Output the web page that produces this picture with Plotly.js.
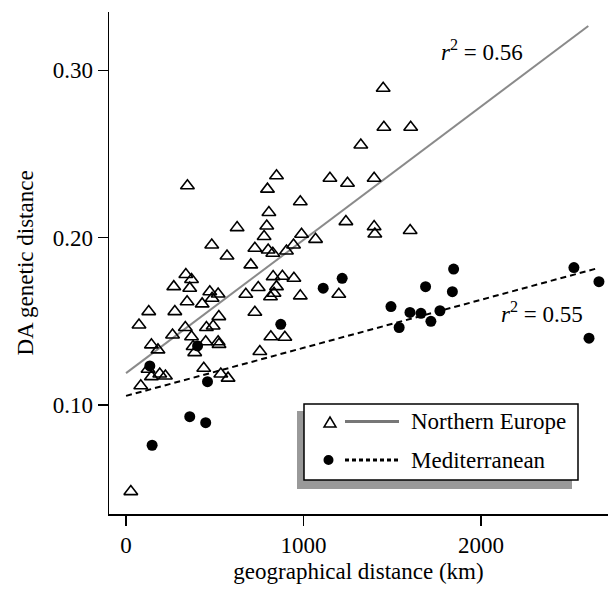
<!DOCTYPE html>
<html>
<head>
<meta charset="utf-8">
<script src="https://cdn.plot.ly/plotly-3.0.1.min.js"></script>
<style>
html,body{margin:0;padding:0;background:#fff;}
#chart{width:611px;height:591px;}
</style>
</head>
<body>
<div id="chart"></div>
<script>
// Northern Europe (open triangles): geographical distance (km), DA genetic distance
const neDist = [848, 346, 797, 982, 805, 626, 793, 778, 483, 569, 726, 801, 827, 904, 944, 703,
  337, 369, 269, 359, 472, 519, 344, 429, 485, 675, 745, 829, 881, 946, 848, 834, 814, 982,
  128, 275, 523, 726, 73, 334, 453, 491, 262, 369, 449, 519, 524, 143, 180, 378, 387, 816,
  895, 754, 124, 143, 190, 222, 438, 534, 575, 83, 27, 1149, 1248, 1398, 1239, 1398, 1402,
  1601, 989, 1068, 1199, 1449, 1453, 1604, 1323];
const neGen = [0.237, 0.231, 0.229, 0.2215, 0.215, 0.206, 0.207, 0.2007, 0.1956, 0.189, 0.1937,
  0.1926, 0.1907, 0.192, 0.1956, 0.1837, 0.178, 0.175, 0.1707, 0.1698, 0.1677, 0.1663, 0.1617,
  0.1604, 0.1638, 0.1662, 0.1702, 0.1767, 0.1769, 0.1757, 0.1707, 0.1668, 0.1647, 0.1652,
  0.1558, 0.1558, 0.1528, 0.1554, 0.1478, 0.1463, 0.1463, 0.1472, 0.1418, 0.1408, 0.1378,
  0.1378, 0.1362, 0.1359, 0.1329, 0.1349, 0.1313, 0.1408, 0.1405, 0.1319, 0.1213, 0.1169,
  0.1185, 0.1173, 0.1219, 0.1185, 0.116, 0.1115, 0.0482, 0.2355, 0.2325, 0.2355, 0.2096,
  0.2066, 0.2022, 0.2043, 0.202, 0.199, 0.1662, 0.2893, 0.266, 0.266, 0.2554];

// Mediterranean (filled circles)
const medDist = [134, 403, 459, 359, 449, 147, 872, 1111, 1218, 1493, 1539, 1600, 1662, 1718,
  1769, 1688, 1839, 1846, 2524, 2665, 2609];
const medGen = [0.1233, 0.1353, 0.1139, 0.093, 0.0894, 0.0759, 0.1482, 0.1698, 0.1757, 0.1588,
  0.1463, 0.1553, 0.1548, 0.15, 0.1563, 0.1707, 0.1677, 0.1812, 0.1821, 0.1737, 0.1399];

// Regression lines (end points)
const neFitX = [0, 2605];
const neFitY = [0.119, 0.3265];
const medFitX = [0, 2656];
const medFitY = [0.1054, 0.1817];

const seriesNames = ["Northern Europe", "Mediterranean"];
const r2Labels = ["<i>r</i><sup>2</sup> = 0.56", "<i>r</i><sup>2</sup> = 0.55"];
const xTicks = [0, 1000, 2000];
const yTicks = [0.10, 0.20, 0.30];

const FONT = "Liberation Serif, Times New Roman, serif";

// plot area in pixels: left 109, right 608, top 12, bottom 514
const L = 109, R = 608, T = 12, B = 514;
const pX = v => (v - L) / (R - L);
const pY = v => (B - v) / (B - T);

const traces = [
  {x: neFitX, y: neFitY, mode: "lines", line: {color: "#8a8a8a", width: 2}, showlegend: false, hoverinfo: "skip"},
  {x: medFitX, y: medFitY, mode: "lines", line: {color: "#000", width: 2, dash: "6px,4px"}, showlegend: false, hoverinfo: "skip"},
  {x: neDist, y: neGen, mode: "markers", name: seriesNames[0], showlegend: false,
   marker: {symbol: "triangle-up-open", size: 12, color: "#000", line: {width: 1.6, color: "#000"}}},
  {x: medDist, y: medGen, mode: "markers", name: seriesNames[1], showlegend: false,
   marker: {symbol: "circle", size: 11, color: "#000"}}
];

const shapes = [
  // legend shadow
  {type: "rect", xref: "paper", yref: "paper", x0: pX(297), x1: pX(572), y0: pY(489), y1: pY(411),
   fillcolor: "#999", line: {width: 0}},
  // legend box
  {type: "rect", xref: "paper", yref: "paper", x0: pX(304), x1: pX(578), y0: pY(480), y1: pY(404),
   fillcolor: "#fff", line: {color: "#000", width: 1.5}},
  // triangle key
  {type: "path", xref: "paper", yref: "paper",
   path: `M ${pX(324)} ${pY(427)} L ${pX(336)} ${pY(427)} L ${pX(330)} ${pY(417)} Z`,
   line: {color: "#000", width: 1.5}, fillcolor: "rgba(0,0,0,0)"},
  {type: "line", xref: "paper", yref: "paper", x0: pX(345), x1: pX(399), y0: pY(421.5), y1: pY(421.5),
   line: {color: "#777", width: 3}},
  // circle key
  {type: "circle", xref: "paper", yref: "paper", x0: pX(323.5), x1: pX(333.5), y0: pY(455), y1: pY(465),
   fillcolor: "#000", line: {color: "#000", width: 0}},
  {type: "line", xref: "paper", yref: "paper", x0: pX(345), x1: pX(399), y0: pY(460), y1: pY(460),
   line: {color: "#000", width: 3, dash: "4px,3px"}}
];

const annotations = [
  {xref: "paper", yref: "paper", x: pX(409), y: pY(422), xanchor: "left", yanchor: "middle",
   text: seriesNames[0], showarrow: false, font: {family: FONT, size: 23, color: "#000"}},
  {xref: "paper", yref: "paper", x: pX(409), y: pY(460), xanchor: "left", yanchor: "middle",
   text: seriesNames[1], showarrow: false, font: {family: FONT, size: 23, color: "#000"}},
  {xref: "paper", yref: "paper", x: pX(439), y: pY(50), xanchor: "left", yanchor: "middle",
   text: r2Labels[0], showarrow: false, font: {family: FONT, size: 23, color: "#000"}},
  {xref: "paper", yref: "paper", x: pX(499), y: pY(312), xanchor: "left", yanchor: "middle",
   text: r2Labels[1], showarrow: false, font: {family: FONT, size: 23, color: "#000"}}
];

const layout = {
  width: 611, height: 591,
  margin: {l: L, r: 611 - R, t: T, b: 591 - B, pad: 0},
  paper_bgcolor: "#fff", plot_bgcolor: "#fff",
  font: {family: FONT, size: 23, color: "#000"},
  showlegend: false,
  xaxis: {
    range: [-96, 2716], tickvals: xTicks, ticktext: xTicks.map(String),
    ticks: "outside", ticklen: 10, tickwidth: 1.5, tickcolor: "#000",
    showline: true, linecolor: "#000", linewidth: 1.5, showgrid: false, zeroline: false,
    tickfont: {family: FONT, size: 23, color: "#000"},
    title: {text: "geographical distance (km)", font: {family: FONT, size: 23, color: "#000"}, standoff: 6}
  },
  yaxis: {
    range: [0.0348, 0.3349], tickvals: yTicks, ticktext: yTicks.map(v => v.toFixed(2)),
    ticks: "outside", ticklen: 10, tickwidth: 1.5, tickcolor: "#000",
    showline: true, linecolor: "#000", linewidth: 1.5, showgrid: false, zeroline: false,
    tickfont: {family: FONT, size: 23, color: "#000"},
    title: {text: "DA genetic distance", font: {family: FONT, size: 23, color: "#000"}, standoff: 12}
  },
  shapes: shapes,
  annotations: annotations
};

Plotly.newPlot("chart", traces, layout, {staticPlot: true, displayModeBar: false});
</script>
</body>
</html>
